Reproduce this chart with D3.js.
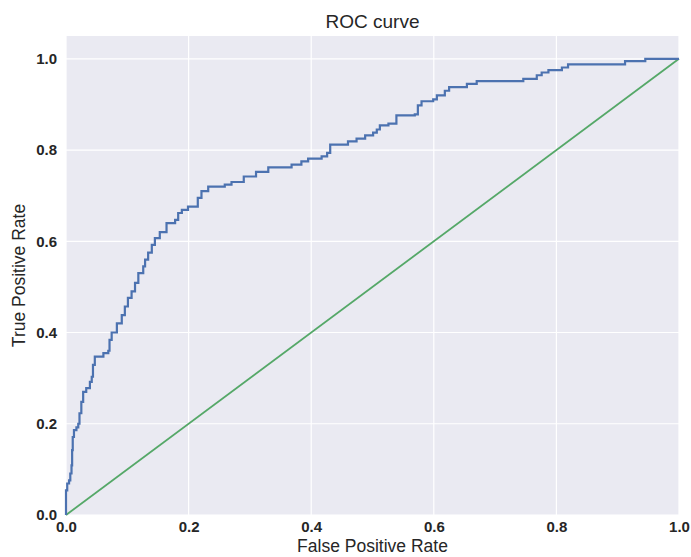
<!DOCTYPE html>
<html>
<head>
<meta charset="utf-8">
<script src="https://cdn.jsdelivr.net/npm/d3@7"></script>
<style>
  body { margin: 0; background: #fff; }
  svg text { font-family: "Liberation Sans", Arial, sans-serif; fill: #262626; }
  .tick text { font-weight: bold; font-size: 15px; }
</style>
</head>
<body>
<div id="chart"></div>
<script>
var svgWidth = 691;
var svgHeight = 557;

var margin = { top: 36, right: 12, bottom: 42, left: 66 };
var width = svgWidth - margin.left - margin.right;
var height = svgHeight - margin.top - margin.bottom;

// ROC points: tpr jumps to this value at this fpr
var fpr = [0, 0, 0.002, 0.005, 0.007, 0.009, 0.010, 0.011, 0.013, 0.017, 0.020, 0.022, 0.025, 0.028,
  0.033, 0.039, 0.042, 0.044, 0.047, 0.061, 0.069, 0.071, 0.0745, 0.083, 0.091, 0.096, 0.101,
  0.107, 0.1126, 0.118, 0.126, 0.129, 0.134, 0.140, 0.145, 0.153, 0.164, 0.178, 0.183, 0.189,
  0.199, 0.215, 0.221, 0.232, 0.259, 0.270, 0.290, 0.310, 0.330, 0.368, 0.384, 0.395, 0.417,
  0.426, 0.431, 0.460, 0.474, 0.488, 0.501, 0.507, 0.512, 0.526, 0.539, 0.569, 0.574, 0.580,
  0.599, 0.605, 0.618, 0.625, 0.654, 0.670, 0.746, 0.768, 0.776, 0.787, 0.809, 0.819, 0.912,
  0.945, 1.0];
var tpr = [0, 0.054, 0.069, 0.076, 0.091, 0.109, 0.142, 0.171, 0.186, 0.192, 0.200, 0.223, 0.248, 0.270,
  0.278, 0.292, 0.303, 0.329, 0.347, 0.355, 0.360, 0.384, 0.400, 0.420, 0.438, 0.457, 0.476,
  0.490, 0.509, 0.530, 0.545, 0.560, 0.575, 0.592, 0.607, 0.620, 0.640, 0.647, 0.662, 0.669,
  0.676, 0.695, 0.710, 0.720, 0.724, 0.730, 0.742, 0.752, 0.762, 0.768, 0.775, 0.781, 0.786,
  0.794, 0.812, 0.819, 0.825, 0.832, 0.838, 0.845, 0.854, 0.858, 0.876, 0.878, 0.898, 0.907,
  0.911, 0.920, 0.930, 0.938, 0.945, 0.951, 0.956, 0.964, 0.970, 0.975, 0.981, 0.988, 0.995,
  1.0, 1.0];

// chance line
var diagX = [0, 1];
var diagY = [0, 1];

var xTicks = [0.0, 0.2, 0.4, 0.6, 0.8, 1.0];
var yTicks = [0.0, 0.2, 0.4, 0.6, 0.8, 1.0];

var svg = d3.select("#chart")
  .append("svg")
  .attr("width", svgWidth)
  .attr("height", svgHeight);

var chartGroup = svg.append("g")
  .attr("transform", `translate(${margin.left}, ${margin.top})`);

var xScale = d3.scaleLinear().domain([0, 1]).range([0, width]);
var yScale = d3.scaleLinear().domain([0, 1.05]).range([height, 0]);

// background
chartGroup.append("rect")
  .attr("width", width)
  .attr("height", height)
  .attr("fill", "#eaeaf2");

// grid
chartGroup.selectAll(".vgrid")
  .data(xTicks)
  .enter()
  .append("line")
  .attr("x1", d => xScale(d))
  .attr("x2", d => xScale(d))
  .attr("y1", 0)
  .attr("y2", height)
  .attr("stroke", "#fff")
  .attr("stroke-width", 1.2);

chartGroup.selectAll(".hgrid")
  .data(yTicks)
  .enter()
  .append("line")
  .attr("x1", 0)
  .attr("x2", width)
  .attr("y1", d => yScale(d))
  .attr("y2", d => yScale(d))
  .attr("stroke", "#fff")
  .attr("stroke-width", 1.2);

// axes
var bottomAxis = d3.axisBottom(xScale)
  .tickValues(xTicks)
  .tickFormat(d3.format(".1f"))
  .tickSize(0)
  .tickPadding(6);
var leftAxis = d3.axisLeft(yScale)
  .tickValues(yTicks)
  .tickFormat(d3.format(".1f"))
  .tickSize(0)
  .tickPadding(9);

chartGroup.append("g")
  .attr("transform", `translate(0, ${height})`)
  .call(bottomAxis)
  .call(g => g.select(".domain").remove());

chartGroup.append("g")
  .call(leftAxis)
  .call(g => g.select(".domain").remove());

chartGroup.selectAll(".tick text")
  .attr("fill", "#262626")
  .style("font-family", "'Liberation Sans', Arial, sans-serif");

// lines
var rocData = fpr.map((d, i) => ({ x: d, y: tpr[i] }));
var diagData = diagX.map((d, i) => ({ x: d, y: diagY[i] }));

var stepLine = d3.line()
  .x(d => xScale(d.x))
  .y(d => yScale(d.y))
  .curve(d3.curveStepAfter);

var straightLine = d3.line()
  .x(d => xScale(d.x))
  .y(d => yScale(d.y));

chartGroup.append("path")
  .datum(diagData)
  .attr("d", straightLine)
  .attr("fill", "none")
  .attr("stroke", "#55a868")
  .attr("stroke-width", 1.8);

chartGroup.append("path")
  .datum(rocData)
  .attr("d", stepLine)
  .attr("fill", "none")
  .attr("stroke", "#4c72b0")
  .attr("stroke-width", 2.2);

// labels
svg.append("text")
  .attr("x", margin.left + width / 2)
  .attr("y", 28)
  .attr("text-anchor", "middle")
  .style("font-size", "19px")
  .text("ROC curve");

svg.append("text")
  .attr("x", margin.left + width / 2)
  .attr("y", 552)
  .attr("text-anchor", "middle")
  .style("font-size", "17.5px")
  .text("False Positive Rate");

svg.append("text")
  .attr("transform", `translate(25, ${margin.top + height / 2}) rotate(-90)`)
  .attr("text-anchor", "middle")
  .style("font-size", "17.5px")
  .text("True Positive Rate");
</script>
</body>
</html>
